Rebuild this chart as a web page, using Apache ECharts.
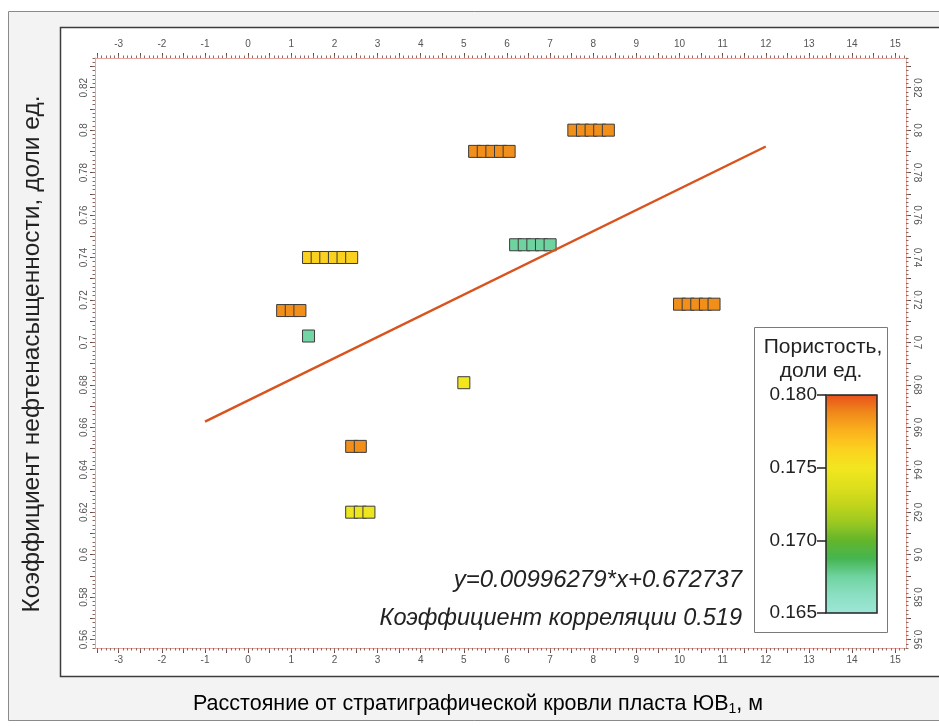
<!DOCTYPE html>
<html><head><meta charset="utf-8">
<script src="https://cdn.jsdelivr.net/npm/echarts@6/dist/echarts.min.js"></script>
<style>html,body{margin:0;padding:0;background:#fff}#c{width:939px;height:726px}</style>
</head><body><div id="c"></div>
<script>
// ---- data ----
const xValues = [
  7.55, 7.75, 7.95, 8.15, 8.35,
  5.25, 5.45, 5.65, 5.85, 6.05,
  6.2, 6.4, 6.6, 6.8, 7.0,
  1.4, 1.6, 1.8, 2.0, 2.2, 2.4,
  0.8, 1.0, 1.2,
  1.4,
  10.0, 10.2, 10.4, 10.6, 10.8,
  5.0,
  2.4, 2.6,
  2.4, 2.6, 2.8
];
const yValues = [
  0.800, 0.800, 0.800, 0.800, 0.800,
  0.790, 0.790, 0.790, 0.790, 0.790,
  0.746, 0.746, 0.746, 0.746, 0.746,
  0.740, 0.740, 0.740, 0.740, 0.740, 0.740,
  0.715, 0.715, 0.715,
  0.703,
  0.718, 0.718, 0.718, 0.718, 0.718,
  0.681,
  0.651, 0.651,
  0.620, 0.620, 0.620
];
const porosity = [
  0.1786, 0.1786, 0.1786, 0.1786, 0.1786,
  0.1786, 0.1786, 0.1786, 0.1786, 0.1786,
  0.1675, 0.1675, 0.1675, 0.1675, 0.1675,
  0.1763, 0.1763, 0.1763, 0.1763, 0.1763, 0.1763,
  0.1786, 0.1786, 0.1786,
  0.1673,
  0.1786, 0.1786, 0.1786, 0.1786, 0.1786,
  0.1750,
  0.1786, 0.1786,
  0.1747, 0.1747, 0.1747
];
const trendX = [-1, 12];
const trendY = [0.6627, 0.7923];
const xTickLabels = [-3,-2,-1,0,1,2,3,4,5,6,7,8,9,10,11,12,13,14,15];
const yTickLabels = [0.56,0.58,0.6,0.62,0.64,0.66,0.68,0.7,0.72,0.74,0.76,0.78,0.8,0.82];
const porosityTicks = [0.165, 0.170, 0.175, 0.180];
const porosityColors = ['#9de6d7','#8bdfc2','#6fd3a0','#45b552','#63b52a','#9cc921','#c3d51b','#dfe01c','#f2e61e','#fbd21f','#fbb21d','#f08a1a','#e9511b'];
const yTitle = 'Коэффициент нефтенасыщенности, доли ед.';
const legendTitle1 = 'Пористость,';
const legendTitle2 = 'доли ед.';
const equationText = 'y=0.00996279*x+0.672737';
const correlationText = 'Коэффициент корреляции 0.519';

// ---- layout ----
const X_MIN = -3.55, X_MAX = 15.25, Y_MIN = 0.556, Y_MAX = 0.834;
function steps(a, b, step) {
  const out = []; const n = Math.round((b - a) / step);
  for (let i = 0; i <= n; i++) out.push(+(a + i * step).toFixed(4));
  return out;
}
const xMinor = steps(-3.5, 15.2, 0.1);
const xMajor = steps(-3.5, 15.0, 0.5);
const yMinor = steps(0.556, 0.834, 0.002);
const yMajor = steps(0.56, 0.83, 0.01);

const FONT = '"Liberation Sans", Arial, sans-serif';
const tickLbl = { fontFamily: FONT, fontSize: 10, color: '#555' };
const axisLineStyle = { color: '#e8a6a0', width: 1 };
const majorTickStyle = { color: '#6b4a44', width: 1 };
const minorTickStyle = { color: '#8a6a64', width: 1 };

function xAxisPair(pos) {
  return [
    { type: 'value', gridIndex: 0, position: pos, min: X_MIN, max: X_MAX,
      axisLine: { show: true, onZero: false, lineStyle: axisLineStyle },
      axisTick: { show: true, customValues: xMajor, length: 5, lineStyle: majorTickStyle },
      axisLabel: { show: true, customValues: xTickLabels, margin: pos === 'top' ? 9 : 7, ...tickLbl },
      splitLine: { show: false } },
    { type: 'value', gridIndex: 0, position: pos, min: X_MIN, max: X_MAX,
      axisLine: { show: false, onZero: false },
      axisTick: { show: true, customValues: xMinor, length: 2.5, lineStyle: minorTickStyle },
      axisLabel: { show: false }, splitLine: { show: false } }
  ];
}
function yAxisPair(pos, rot) {
  return [
    { type: 'value', gridIndex: 0, position: pos, min: Y_MIN, max: Y_MAX,
      axisLine: { show: true, onZero: false, lineStyle: axisLineStyle },
      axisTick: { show: true, customValues: yMajor, length: 5, lineStyle: majorTickStyle },
      axisLabel: { show: true, customValues: yTickLabels, rotate: rot, margin: 6, ...tickLbl,
        formatter: v => String(+v.toFixed(2)) },
      splitLine: { show: false } },
    { type: 'value', gridIndex: 0, position: pos, min: Y_MIN, max: Y_MAX,
      axisLine: { show: false, onZero: false },
      axisTick: { show: true, customValues: yMinor, length: 2.5, lineStyle: minorTickStyle },
      axisLabel: { show: false }, splitLine: { show: false } }
  ];
}

const chart = echarts.init(document.getElementById('c'), null, { renderer: 'canvas' });
chart.setOption({
  animation: false,
  backgroundColor: '#ffffff',
  grid: [
    { left: 95, top: 58, right: 33, bottom: 78, containLabel: false },
    { left: 826, top: 395, width: 51, height: 218, containLabel: false }
  ],
  xAxis: [
    ...xAxisPair('bottom'), ...xAxisPair('top'),
    { type: 'value', gridIndex: 1, min: 0, max: 1, show: false }
  ],
  yAxis: [
    ...yAxisPair('left', 90), ...yAxisPair('right', -90),
    { type: 'value', gridIndex: 1, position: 'left', min: 0.165, max: 0.18,
      axisLine: { show: false },
      axisTick: { show: true, customValues: porosityTicks, length: 9, lineStyle: { color: '#222', width: 1.5 } },
      axisLabel: { show: true, customValues: porosityTicks, margin: 9, fontFamily: FONT, fontSize: 19, color: '#222',
        formatter: v => v.toFixed(3) },
      splitLine: { show: false } }
  ],
  visualMap: [{
    type: 'continuous', min: 0.165, max: 0.18, dimension: 2, seriesIndex: 0,
    inRange: { color: porosityColors },
    left: 826, top: 395, itemWidth: 51, itemHeight: 218,
    calculable: false, hoverLink: false, padding: 0, text: null, show: true
  }],
  graphic: [
    { type: 'rect', z: -10, shape: { x: 8.5, y: 11.5, width: 960, height: 709 },
      style: { fill: '#f3f3f3', stroke: '#8a8a8a', lineWidth: 1 } },
    { type: 'rect', z: -9, shape: { x: 60.5, y: 27.5, width: 920, height: 649 },
      style: { fill: '#ffffff', stroke: '#3c3c3c', lineWidth: 1.5 } },
    { type: 'rect', z: -8, shape: { x: 754.5, y: 327.5, width: 133, height: 305 },
      style: { fill: '#ffffff', stroke: '#7a7a7a', lineWidth: 1 } },
    { type: 'rect', z: 20, shape: { x: 826, y: 395, width: 51, height: 218 },
      style: { fill: 'none', stroke: '#222', lineWidth: 1.5 } },
    { type: 'text', z: 20, x: 823, y: 347,
      style: { text: legendTitle1, align: 'center', verticalAlign: 'middle', font: '21px ' + FONT, fill: '#222' } },
    { type: 'text', z: 20, x: 821, y: 371,
      style: { text: legendTitle2, align: 'center', verticalAlign: 'middle', font: '21px ' + FONT, fill: '#222' } },
    { type: 'text', z: 20, x: 742, y: 580,
      style: { text: equationText, align: 'right', verticalAlign: 'middle', font: 'italic 24px ' + FONT, fill: '#222' } },
    { type: 'text', z: 20, x: 742, y: 618,
      style: { text: correlationText, align: 'right', verticalAlign: 'middle', font: 'italic 23.5px ' + FONT, fill: '#222' } },
    { type: 'text', z: 20, x: 32, y: 354, rotation: Math.PI / 2,
      style: { text: yTitle, align: 'center', verticalAlign: 'middle', font: '24.5px ' + FONT, fill: '#222' } },
    { type: 'text', z: 20, x: 478, y: 703,
      style: { text: '{a|Расстояние от стратиграфической кровли пласта ЮВ}{s|1}{a|, м}',
        align: 'center', verticalAlign: 'middle',
        rich: { a: { fontFamily: FONT, fontSize: 21.5, color: '#222', lineHeight: 24, verticalAlign: 'bottom' },
                s: { fontFamily: FONT, fontSize: 14, color: '#222', lineHeight: 15, verticalAlign: 'bottom', padding: [0, 0, -1, 0] } } } }
  ],
  series: [
    { type: 'scatter', xAxisIndex: 0, yAxisIndex: 0, symbol: 'rect', symbolSize: 12, silent: true, z: 3,
      data: xValues.map((x, i) => [x, yValues[i], porosity[i]]),
      itemStyle: { borderColor: '#3b3b3b', borderWidth: 1, opacity: 1 } },
    { type: 'line', xAxisIndex: 0, yAxisIndex: 0, symbol: 'none', silent: true, z: 4,
      data: trendX.map((x, i) => [x, trendY[i]]),
      lineStyle: { color: '#d9531e', width: 2.5 } },
    { type: 'scatter', xAxisIndex: 4, yAxisIndex: 4, data: [] }
  ]
});
</script></body></html>
